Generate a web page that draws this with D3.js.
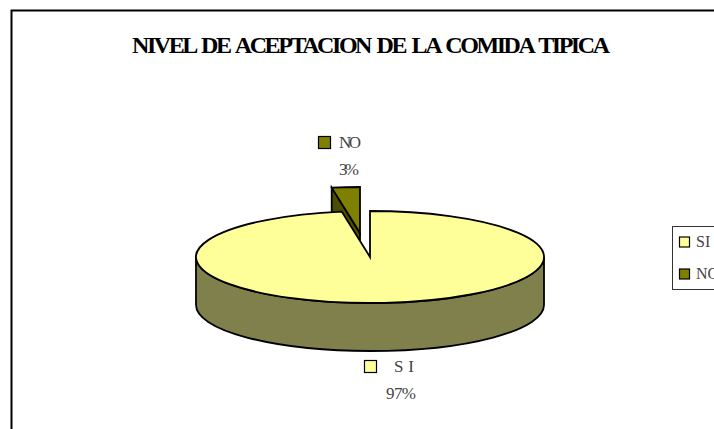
<!DOCTYPE html>
<html>
<head>
<meta charset="utf-8">
<script src="https://cdn.jsdelivr.net/npm/d3@7"></script>
<style>
  html, body { margin: 0; padding: 0; background: #fff; overflow: hidden; }
  svg { display: block; }
  text { font-family: "Liberation Serif", serif; }
</style>
</head>
<body>
<svg width="714" height="429"></svg>
<script>
const categories = ["SI", "NO"];
const values = [97.4, 2.6];
const percentLabels = ["97%", "3%"];
const chartTitle = "NIVEL DE ACEPTACION DE LA COMIDA TIPICA";

const colors = ["#ffff99", "#808000"];
const wallColors = ["#80804d", "#4d4d00"];

const width = 714,
  height = 429;

const cx = 370,
  cy = 257,
  rx = 174,
  ry = 46,
  depth = 48;

// NO slice is pulled out of the pie
const explode = { x: -10, y: -24 };

const lineWidth = 1.8;

const svg = d3.select("svg");

svg
  .append("rect")
  .attr("x", 11.5)
  .attr("y", 10.5)
  .attr("width", width + 20)
  .attr("height", height + 20)
  .attr("fill", "#fff")
  .attr("stroke", "#000")
  .attr("stroke-width", 2);

svg
  .append("text")
  .attr("x", 132)
  .attr("y", 53)
  .attr("font-size", 24)
  .attr("font-weight", "bold")
  .attr("textLength", 478)
  .attr("lengthAdjust", "spacing")
  .attr("word-spacing", 3)
  .attr("fill", "#000")
  .text(chartTitle);

const slices = d3
  .pie()
  .sort(null)
  .startAngle(0)
  .endAngle(2 * Math.PI)(values);

const arc = d3.arc().innerRadius(0).outerRadius(rx);

const pointAt = (angle, r = 1) => [
  r * rx * Math.sin(angle),
  -r * ry * Math.cos(angle)
];

// front wall of the big slice, lower half of the ellipse
const frontWall = () => {
  const path = `M${-rx},0 A${rx},${ry} 0 0 0 ${rx},0 L${rx},${depth} A${rx},${ry} 0 0 1 ${-rx},${depth} Z`;
  return path;
};

// NO slice: cut face first, SI is drawn over it afterwards
const noSlice = slices[1];
const noGroup = svg
  .append("g")
  .attr("transform", `translate(${cx + explode.x},${cy + explode.y})`);

const noEdge = pointAt(noSlice.startAngle);
noGroup
  .append("path")
  .attr(
    "d",
    d3.line()([
      noEdge,
      [noEdge[0], noEdge[1] + depth],
      [0, depth],
      [0, 0]
    ]) + "Z"
  )
  .attr("fill", wallColors[1])
  .attr("stroke", "#000")
  .attr("stroke-width", lineWidth);

noGroup
  .append("path")
  .attr("transform", `scale(1,${ry / rx})`)
  .attr("d", arc(noSlice))
  .attr("fill", colors[1])
  .attr("stroke", "#000")
  .attr("stroke-width", lineWidth)
  .attr("vector-effect", "non-scaling-stroke");

// SI slice
const siGroup = svg.append("g").attr("transform", `translate(${cx},${cy})`);

siGroup
  .append("path")
  .attr("d", frontWall())
  .attr("fill", wallColors[0])
  .attr("stroke", "#000")
  .attr("stroke-width", lineWidth);

siGroup
  .append("path")
  .attr("transform", `scale(1,${ry / rx})`)
  .attr("d", arc(slices[0]))
  .attr("fill", colors[0])
  .attr("stroke", "#000")
  .attr("stroke-width", lineWidth)
  .attr("vector-effect", "non-scaling-stroke");

// data labels
const labelPos = [
  { key: 364, name: 394, y: 372, pct: 386, pctY: 399, nameLen: 20, pctLen: 30 },
  { key: 318, name: 339, y: 148, pct: 339, pctY: 175, nameLen: 22, pctLen: 20 }
];

const labels = svg
  .selectAll("g.label")
  .data(categories)
  .enter()
  .append("g")
  .attr("class", "label");

labels
  .append("rect")
  .attr("x", (d, i) => labelPos[i].key + 0.5)
  .attr("y", (d, i) => labelPos[i].y - 11.5)
  .attr("width", 12)
  .attr("height", 12)
  .attr("fill", (d, i) => colors[i])
  .attr("stroke", "#000")
  .attr("stroke-width", 1.2);

labels
  .append("text")
  .attr("x", (d, i) => labelPos[i].name)
  .attr("y", (d, i) => labelPos[i].y)
  .attr("font-size", 17)
  .attr("textLength", (d, i) => labelPos[i].nameLen)
  .attr("fill", "#444")
  .text(d => d);

labels
  .append("text")
  .attr("x", (d, i) => labelPos[i].pct)
  .attr("y", (d, i) => labelPos[i].pctY)
  .attr("font-size", 17)
  .attr("textLength", (d, i) => labelPos[i].pctLen)
  .attr("fill", "#444")
  .text((d, i) => percentLabels[i]);

// legend runs off the right side of the picture
const legendY = d3.scalePoint().domain(categories).range([242, 274]);

svg
  .append("rect")
  .attr("x", 672.5)
  .attr("y", 226.5)
  .attr("width", 60)
  .attr("height", 63)
  .attr("fill", "#fff")
  .attr("stroke", "#333")
  .attr("stroke-width", 1);

const legend = svg
  .selectAll("g.legend")
  .data(categories)
  .enter()
  .append("g")
  .attr("class", "legend");

legend
  .append("rect")
  .attr("x", 679.5)
  .attr("y", d => legendY(d) - 5)
  .attr("width", 10)
  .attr("height", 10)
  .attr("fill", (d, i) => colors[i])
  .attr("stroke", "#000")
  .attr("stroke-width", 1.2);

legend
  .append("text")
  .attr("x", 696)
  .attr("y", d => legendY(d) + 5)
  .attr("font-size", 16)
  .attr("fill", "#444")
  .text(d => d);
</script>
</body>
</html>
